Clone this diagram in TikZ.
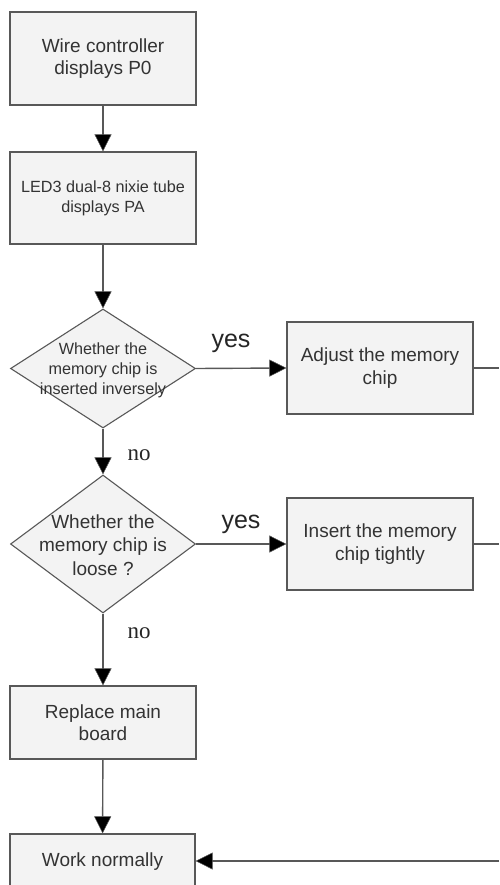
\documentclass[tikz,border=0pt]{standalone}
\usepackage{fontspec}
\setmainfont{Liberation Sans}
\newfontfamily\serifno{Liberation Serif}
\usetikzlibrary{arrows.meta,shapes.geometric}
\definecolor{boxfill}{HTML}{F3F3F3}
\definecolor{edge}{HTML}{585858}
\begin{document}
\begin{tikzpicture}[x=1pt,y=-1pt,
  procbox/.style={draw=edge,fill=boxfill,line width=1.2pt,minimum width=186pt,align=center,inner sep=0pt,font=\fontsize{19}{22.5}\selectfont,text=black!80},
  decbox/.style={draw=edge,fill=boxfill,line width=1.1pt,shape=diamond,minimum width=185pt,inner sep=0pt,aspect=1.5},
  conn/.style={draw=edge,line width=1.4pt},
  arr/.style={conn,-{Triangle[width=17pt,length=17pt,fill=black,line width=0.5pt]}},
  yeslab/.style={font=\fontsize{25}{25}\selectfont,anchor=base,text=black!85},
  nolab/.style={font=\serifno\fontsize{23}{23}\selectfont,anchor=base,text=black!85}]
\useasboundingbox (0,0) rectangle (499,885);
\fill[white] (0,0) rectangle (499,885);
\clip (0,0) rectangle (499,885);

\node[procbox,minimum height=93pt] (b1) at (103,58.5) {Wire controller\\displays P0};
\node[procbox,minimum height=92pt,font=\fontsize{16.2}{20}\selectfont] (b2) at (103,198) {LED3 dual-8 nixie tube\\displays PA};

\node[decbox,minimum height=119pt] (d1) at (103,368.5) {};
\node[align=center,font=\fontsize{16.2}{20}\selectfont,text=black!80,inner sep=0pt] (t1) at (103,370) {Whether the\\memory chip is\\inserted inversely};

\node[procbox,minimum height=92pt] (a1) at (380,368) {Adjust the memory\\chip};

\node[decbox,minimum height=138pt] (d2) at (103,544) {};
\node[align=center,font=\fontsize{19}{23.5}\selectfont,text=black!80,inner sep=0pt] (t2) at (103,545) {Whether the\\memory chip is\\loose ?};

\node[procbox,minimum height=92pt] (a2) at (380,544) {Insert the memory\\chip tightly};

\node[procbox,minimum height=73pt] (b3) at (103,722.5) {Replace main\\board};
\node[procbox,minimum height=56pt,minimum width=185pt] (b4) at (102.5,862) {Work normally};

\coordinate (r1) at (499,368);
\coordinate (r2) at (499,544);
\coordinate (r3) at (499,861);

\draw[arr] (b1) -- (b2);
\draw[arr] (b2) -- (d1);
\draw[arr] (d1.east) -- (a1.west);
\draw[arr] (d1) -- (d2);
\draw[arr] (d2.east) -- (a2.west);
\draw[arr] (d2) -- (b3);
\draw[arr] (b3) -- (b4);
\draw[conn] (a1.east) -- (r1);
\draw[conn] (a2.east) -- (r2);
\draw[arr] (r3) -- (r3 -| b4.east);

\node[yeslab] (y1) at (231,347) {yes};
\node[yeslab] (y2) at (241,528) {yes};
\node[nolab] (n1) at (139,460) {no};
\node[nolab] (n2) at (139,638) {no};
\end{tikzpicture}
\end{document}
